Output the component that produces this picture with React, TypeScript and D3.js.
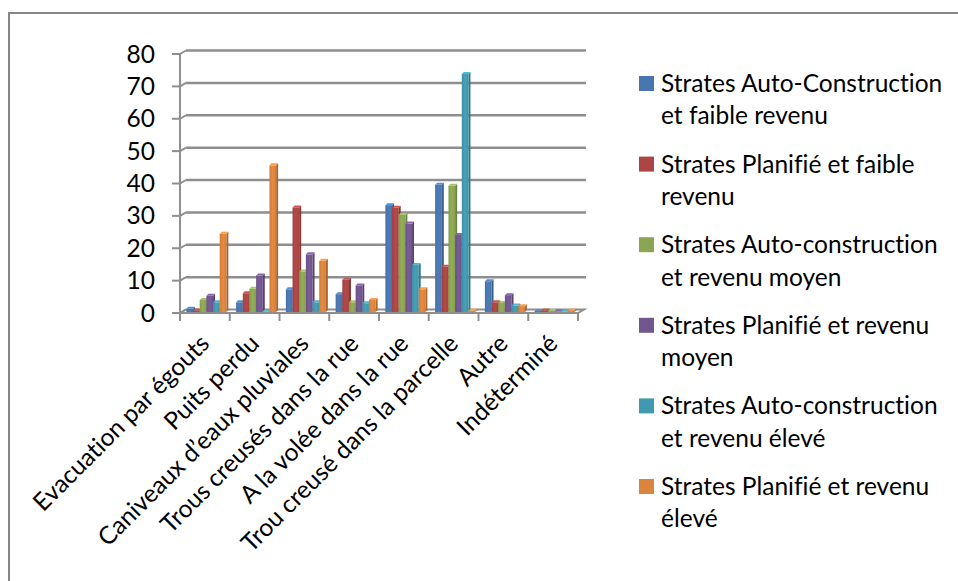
import React from "react";
import * as d3 from "d3";

const categories = [
  "Evacuation par égouts",
  "Puits perdu",
  "Caniveaux d’eaux pluviales",
  "Trous creusés dans la rue",
  "A la volée dans la rue",
  "Trou creusé dans la parcelle",
  "Autre",
  "Indéterminé",
];

const seriesNames = [
  ["Strates Auto-Construction", "et faible revenu"],
  ["Strates Planifié et faible", "revenu"],
  ["Strates Auto-construction", "et revenu moyen"],
  ["Strates Planifié et revenu", "moyen"],
  ["Strates Auto-construction", "et revenu élevé"],
  ["Strates Planifié et revenu", "élevé"],
];

const autoFaible = [1, 3, 7, 5.5, 33, 39.3, 9.5, 0.3];
const planFaible = [0.5, 5.8, 32.3, 10, 32.2, 14, 3, 0.5];
const autoMoyen = [3.7, 7.2, 12.5, 3, 30, 39, 2.8, 0.3];
const planMoyen = [5, 11.3, 17.8, 8.2, 27.3, 23.8, 5.2, 0.2];
const autoEleve = [3, 0.2, 3, 2.7, 14.5, 73.5, 2, 0.2];
const planEleve = [24.2, 45.3, 15.8, 3.7, 7, 0.4, 1.8, 0.5];

const seriesValues = [autoFaible, planFaible, autoMoyen, planMoyen, autoEleve, planEleve];
const colors = ["#4a76b0", "#ab4644", "#8aa652", "#72578f", "#4199b0", "#db843d"];

const yTicks = [0, 10, 20, 30, 40, 50, 60, 70, 80];

const FONT = "Lato, 'Open Sans', sans-serif";

export default function App() {
  const W = 958, H = 581;
  const x0 = 180, x1 = 578;
  const depthX = 6, depthY = -3.5;
  const y = d3.scaleLinear().domain([0, 80]).range([313, 54]);
  const xBand = d3
    .scaleBand<string>()
    .domain(categories)
    .range([x0, x1])
    .paddingInner(0.196)
    .paddingOuter(0.098);
  const step = xBand.step();
  const inner = d3
    .scaleBand<number>()
    .domain(d3.range(seriesValues.length))
    .range([0, xBand.bandwidth()]);
  const bw = inner.bandwidth();
  const bdx = 2, bdy = -2;
  const barShift = 1.5;
  const gridColor = "#8e8e8e";
  const fs = 24.5;

  const bars: React.ReactNode[] = [];
  categories.forEach((c, ci) => {
    seriesValues.forEach((vals, si) => {
      const v = vals[ci];
      const bx = (xBand(c) as number) + (inner(si) as number) + barShift;
      const top = y(v) - 1;
      const bottom = y(0) - 1;
      const col = d3.color(colors[si])!;
      const dark = col.darker(0.7).formatHex();
      const light = col.brighter(0.5).formatHex();
      bars.push(
        <g key={`${ci}-${si}`}>
          <polygon
            points={`${bx + bw},${bottom} ${bx + bw + bdx},${bottom + bdy} ${bx + bw + bdx},${top + bdy} ${bx + bw},${top}`}
            fill={dark}
          />
          <rect x={bx} y={top} width={bw} height={bottom - top} fill={`url(#grad${si})`} />
          <polygon
            points={`${bx},${top} ${bx + bdx},${top + bdy} ${bx + bw + bdx},${top + bdy} ${bx + bw},${top}`}
            fill={light}
          />
        </g>
      );
    });
  });

  return (
    <svg
      width={W}
      height={H}
      style={{
        position: "absolute",
        left: 0,
        top: 0,
        display: "block",
        background: "#fff",
        fontVariantLigatures: "none",
        fontFeatureSettings: "'liga' 0",
      }}
      fontFamily={FONT}
    >
      <defs>
        {colors.map((c, i) => {
          const col = d3.color(c)!;
          return (
            <linearGradient key={i} id={`grad${i}`} x1="0" y1="0" x2="1" y2="0">
              <stop offset="0%" stopColor={col.darker(0.15).formatHex()} />
              <stop offset="50%" stopColor={col.brighter(0.15).formatHex()} />
              <stop offset="100%" stopColor={col.darker(0.1).formatHex()} />
            </linearGradient>
          );
        })}
      </defs>
      <rect x={9} y={13} width={1000} height={700} fill="none" stroke="#878787" strokeWidth={2} />

      {/* floor */}
      <polygon
        points={`${x0},${y(0)} ${x0 + depthX},${y(0) + depthY} ${x1 + depthX},${y(0) + depthY} ${x1},${y(0)}`}
        fill="#ffffff"
        stroke={gridColor}
        strokeWidth={2}
      />

      {/* gridlines */}
      {yTicks.map((t) => (
        <g key={t}>
          <line x1={x0 - 8} x2={x0} y1={y(t)} y2={y(t)} stroke={gridColor} strokeWidth={2} />
          <line
            x1={x0}
            y1={y(t)}
            x2={x0 + depthX}
            y2={y(t) + depthY}
            stroke={gridColor}
            strokeWidth={2}
          />
          {t > 0 && (
            <line
              x1={x0 + depthX}
              x2={x1 + 8}
              y1={y(t) + depthY}
              y2={y(t) + depthY}
              stroke={gridColor}
              strokeWidth={2.5}
            />
          )}
          <text x={155} y={y(t)} dy="0.35em" textAnchor="end" fontSize={fs} fill="#000">
            {t}
          </text>
        </g>
      ))}
      <line x1={x0} x2={x0} y1={y(80)} y2={y(0)} stroke={gridColor} strokeWidth={2} />

      {bars}

      {/* category ticks */}
      {d3.range(categories.length + 1).map((i) => (
        <line
          key={i}
          x1={x0 + i * step}
          x2={x0 + i * step}
          y1={y(0)}
          y2={y(0) + 8}
          stroke={gridColor}
          strokeWidth={2}
        />
      ))}
      <line x1={x0} x2={x1} y1={y(0)} y2={y(0)} stroke={gridColor} strokeWidth={2} />

      {/* category labels */}
      {categories.map((c) => {
        const cx = (xBand(c) as number) + xBand.bandwidth() / 2 + 6;
        const cy = 345;
        return (
          <text
            key={c}
            x={cx}
            y={cy}
            textAnchor="end"
            fontSize={fs}
            transform={`rotate(-45 ${cx} ${cy})`}
            fill="#000"
          >
            {c}
          </text>
        );
      })}

      {/* legend */}
      {seriesNames.map((lines, i) => {
        const top = 76 + i * 80.6;
        return (
          <g key={i}>
            <rect x={639} y={top} width={15} height={15} fill={colors[i]} />
            {lines.map((l, li) => (
              <text key={li} x={661} y={top + 16 + li * 32.3} fontSize={fs} fill="#000">
                {l}
              </text>
            ))}
          </g>
        );
      })}
    </svg>
  );
}
